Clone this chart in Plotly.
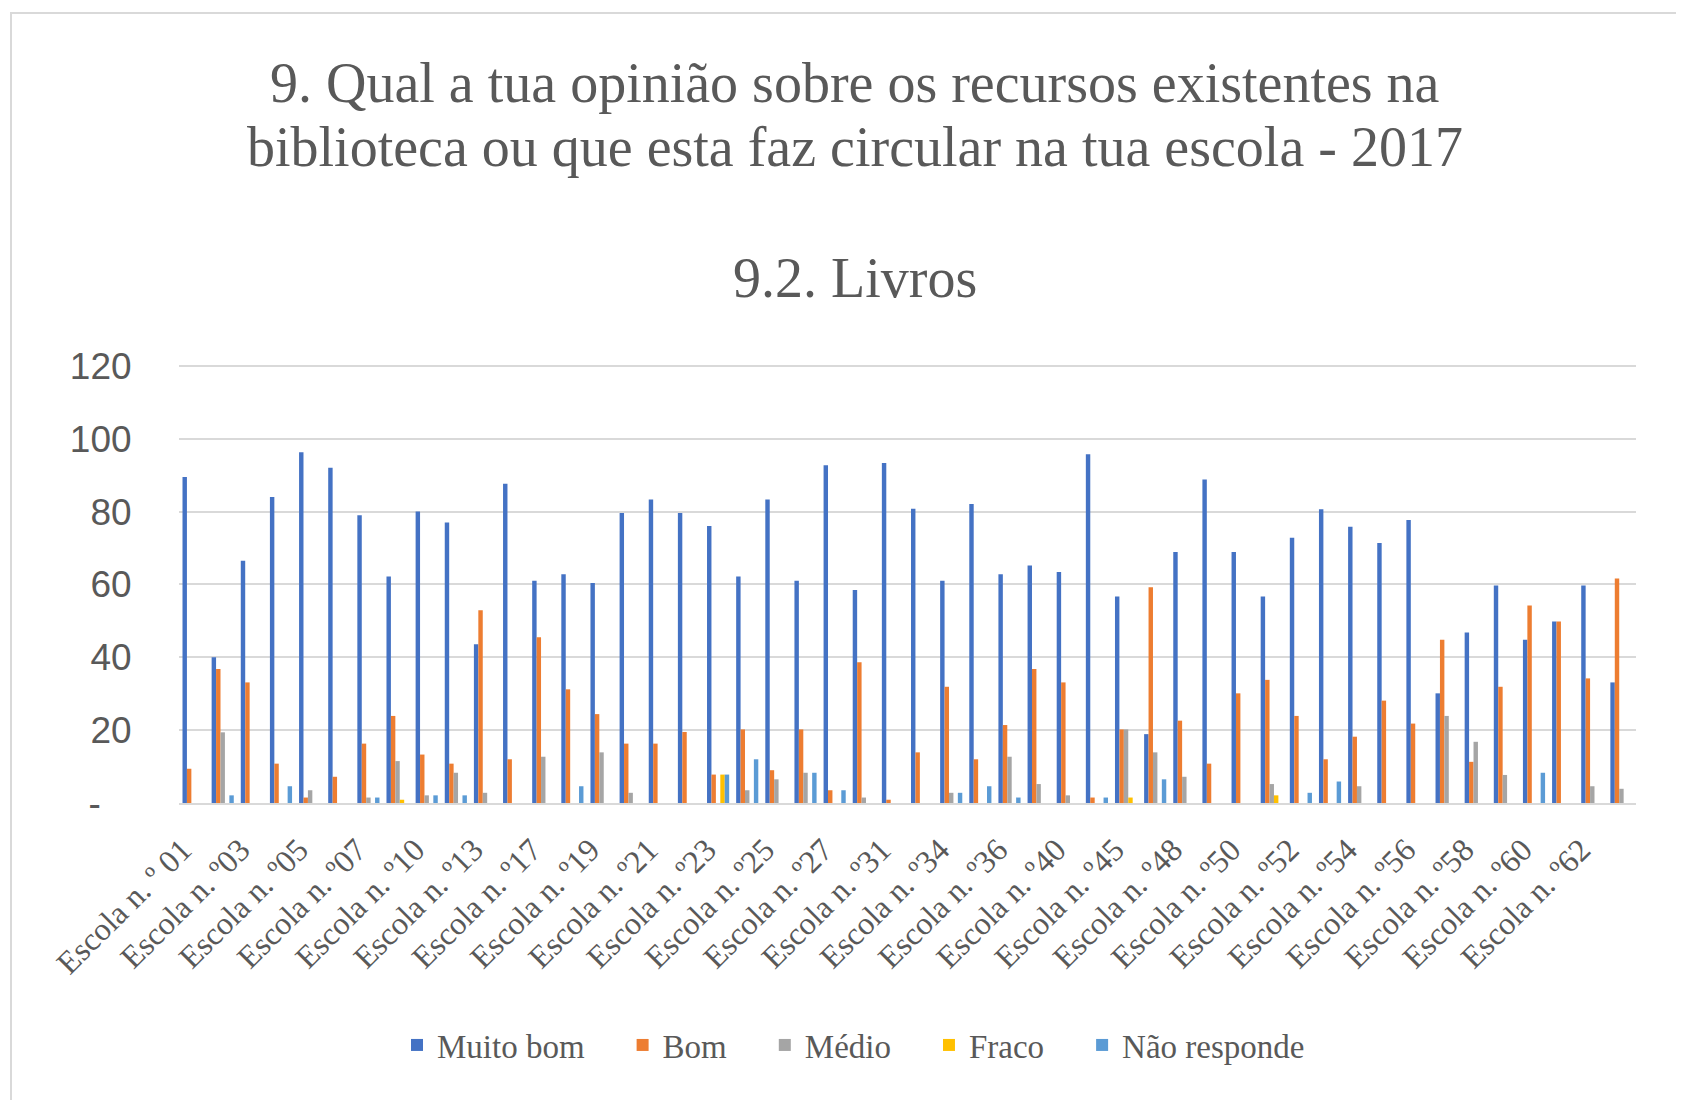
import plotly.graph_objects as go

nums = ["01", "02", "03", "04", "05", "06", "07", "09", "10", "12",
        "13", "15", "17", "18", "19", "20", "21", "22", "23", "24",
        "25", "26", "27", "29", "31", "33", "34", "35", "36", "38",
        "40", "42", "45", "47", "48", "49", "50", "51", "52", "53",
        "54", "55", "56", "57", "58", "59", "60", "61", "62", "63"]
categories = ["Escola n. º 01" if n == "01" else "Escola n. º" + n for n in nums]

muito_bom = [89.5, 40, 66.5, 84, 96.3, 92, 79, 62.2, 80, 77,
             43.6, 87.6, 61, 62.8, 60.4, 79.6, 83.3, 79.6, 76, 62.2,
             83.3, 61, 92.7, 58.5, 93.3, 80.8, 61, 82.1, 62.8, 65.2,
             63.4, 95.7, 56.7, 18.9, 68.9, 88.8, 68.9, 56.7, 72.8, 80.6,
             75.8, 71.4, 77.7, 30.1, 46.8, 59.7, 44.8, 49.8, 59.7, 33.1]
bom = [9.4, 36.8, 33.1, 10.8, 1.5, 7.2, 16.3, 23.9, 13.3, 10.8,
       52.9, 12.0, 45.5, 31.2, 24.4, 16.3, 16.3, 19.5, 7.8, 20.2,
       9.0, 20.2, 3.5, 38.6, 0.9, 13.9, 31.9, 12.0, 21.4, 36.8,
       33.1, 1.5, 20.2, 59.2, 22.6, 10.8, 30.1, 33.8, 23.9, 12.0,
       18.2, 28.1, 21.8, 44.8, 11.3, 31.9, 54.2, 49.8, 34.2, 61.6]
medio = [0, 19.4, 0, 0, 3.5, 0, 1.5, 11.5, 2.1, 8.3,
         2.8, 0, 12.7, 0, 13.9, 2.8, 0, 0, 0, 3.5,
         6.5, 8.3, 0, 1.5, 0, 0, 2.8, 0, 12.7, 5.2,
         2.1, 0, 20.2, 13.9, 7.2, 0, 0, 5.2, 0, 0,
         4.6, 0, 0, 23.9, 16.8, 7.7, 0, 0, 4.6, 3.9]
fraco = [0, 0, 0, 0, 0, 0, 0, 0.9, 0, 0,
         0, 0, 0, 0, 0, 0, 0, 0, 7.8, 0,
         0, 0, 0, 0, 0, 0, 0, 0, 0, 0,
         0, 0, 1.5, 0, 0, 0, 0, 2.1, 0, 0,
         0, 0, 0, 0, 0, 0, 0, 0, 0, 0]
nao_responde = [0, 2.1, 0, 4.6, 0, 0, 1.5, 0, 2.1, 2.1,
                0, 0, 0, 4.6, 0, 0, 0, 0, 7.8, 12.0,
                0, 8.3, 3.5, 0, 0, 0, 2.8, 4.6, 1.5, 0,
                0, 1.5, 0, 6.5, 0, 0, 0, 0, 2.8, 5.9,
                0, 0, 0, 0, 0, 0, 8.3, 0, 0, 0]

series = [("Muito bom", muito_bom, "#4472C4"),
          ("Bom", bom, "#ED7D31"),
          ("Médio", medio, "#A5A5A5"),
          ("Fraco", fraco, "#FFC000"),
          ("Não responde", nao_responde, "#5B9BD5")]

y_ticks = [0, 20, 40, 60, 80, 100, 120]
y_ticktext = ["-\u00a0\u00a0\u00a0", "20", "40", "60", "80", "100", "120"]

title_line1 = "9. Qual a tua opinião sobre os recursos existentes na"
title_line2 = "biblioteca ou que esta faz circular na tua escola - 2017"
subtitle = "9.2. Livros"

PAD = "\u00a0" * 4

fig = go.Figure()
for name, vals, col in series:
    fig.add_trace(go.Bar(x=categories, y=vals, name=name + PAD, marker_color=col,
                         marker_line_width=0))

# page offset (browser body margin)
OFF = 8
W, H = 1684 - OFF, 1100 - OFF
# desired page-pixel plot box
PL, PR, PT, PB = 179, 1636, 364, 803
L = PL - OFF
R = W - (PR - OFF)
T = PT - OFF
B = H - (PB - OFF)
PW = W - L - R
PH = H - T - B

def px_x(p):
    return (p - OFF - L) / PW

def px_y(p):
    return (H - B - (p - OFF)) / PH

gray = "#595959"
tfont = dict(family="Liberation Serif", size=56, color=gray)
fig.update_layout(
    width=W, height=H,
    paper_bgcolor="white", plot_bgcolor="white",
    margin=dict(l=L, r=R, t=T, b=B),
    barmode="group", bargap=0.24, bargroupgap=0,
    legend=dict(orientation="h", x=px_x(870), xanchor="center", y=px_y(1045), yanchor="middle",
                font=dict(family="Liberation Serif", size=33, color=gray),
                itemwidth=30, traceorder="normal"),
    showlegend=True,
    annotations=[
        dict(text=title_line1, x=px_x(855), y=px_y(83), xref="paper", yref="paper",
             showarrow=False, xanchor="center", yanchor="middle", font=tfont),
        dict(text=title_line2, x=px_x(855), y=px_y(147), xref="paper", yref="paper",
             showarrow=False, xanchor="center", yanchor="middle", font=tfont),
        dict(text=subtitle, x=px_x(855), y=px_y(278), xref="paper", yref="paper",
             showarrow=False, xanchor="center", yanchor="middle", font=tfont),
    ],
    shapes=[dict(type="rect", xref="paper", yref="paper",
                 x0=px_x(11), x1=px_x(1720), y0=px_y(1130), y1=px_y(13),
                 line=dict(color="#D9D9D9", width=2), fillcolor="rgba(0,0,0,0)", layer="below")],
)
fig.update_xaxes(type="category", tickmode="array",
                 tickvals=categories[::2], ticktext=[c + "\u00a0\u00a0" for c in categories[::2]],
                 tickangle=-45, ticks="outside", ticklen=2, tickcolor="rgba(0,0,0,0)",
                 tickfont=dict(family="Liberation Serif", size=32, color=gray),
                 showline=True, linecolor="#D9D9D9", linewidth=2, showgrid=False)
fig.update_yaxes(range=[0, 120.5], tickmode="array", tickvals=y_ticks, ticktext=y_ticktext,
                 ticks="outside", ticklen=39, tickcolor="rgba(0,0,0,0)",
                 tickfont=dict(family="Liberation Sans", size=37, color=gray),
                 showgrid=True, gridcolor="#D9D9D9", gridwidth=2,
                 zeroline=False, showline=False)

fig.write_html("out.html")
